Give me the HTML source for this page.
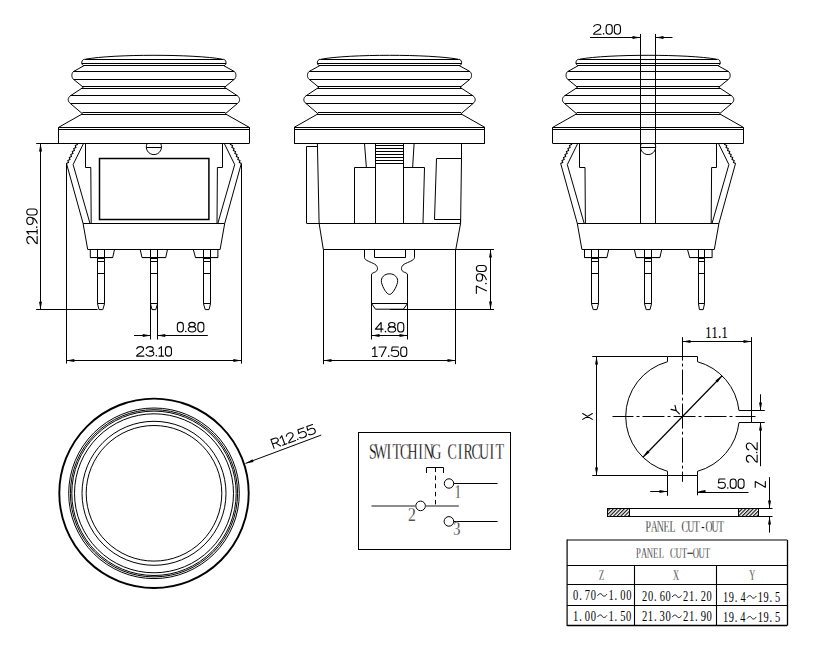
<!DOCTYPE html>
<html><head><meta charset="utf-8"><style>
html,body{margin:0;padding:0;background:#fff;}
svg{display:block;}
</style></head><body>
<svg width="825" height="650" viewBox="0 0 825 650">
<rect width="825" height="650" fill="#fff"/>
<style>text{fill:#000;stroke:none;} text.dk{stroke:none;} text.lt{stroke:#fff;stroke-width:0.3px;}</style>
<g fill="none" stroke="#000" stroke-width="1" stroke-linejoin="miter" stroke-linecap="butt">
<path d="M84.6,59.2 C81.3,59.6 80.7,64.4 83.8,65.8 L73.5,71.5 C71.3,73.4 71.3,77.4 73.5,79.3 L83.3,87.3 L70.4,95.8 C67.5,97.8 67.5,101.5 70.4,103.5 L82.5,113.8 L58.5,127.4 L58.5,127.4 L58.5,143.4" />
<path d="M223.2,59.2 C226.5,59.6 227.1,64.4 224,65.8 L234.3,71.5 C236.5,73.4 236.5,77.4 234.3,79.3 L224.5,87.3 L237.4,95.8 C240.3,97.8 240.3,101.5 237.4,103.5 L225.3,113.8 L249.3,127.4 L249.5,127.4 L249.5,143.4" />
<path d="M85.5,59.2 C113.9,54 193.9,54 222.3,59.2" />
<line x1="84.6" y1="59.5" x2="223.2" y2="59.5" stroke-width="1" />
<line x1="81.7" y1="63.5" x2="226.1" y2="63.5" stroke-width="1" />
<line x1="83.4" y1="65.5" x2="224.4" y2="65.5" stroke-width="1" />
<line x1="73.5" y1="71.5" x2="234.3" y2="71.5" stroke-width="1" />
<line x1="73.5" y1="79.5" x2="234.3" y2="79.5" stroke-width="1" />
<line x1="82.1" y1="86.5" x2="225.7" y2="86.5" stroke-width="1" />
<line x1="81.7" y1="88.5" x2="226.1" y2="88.5" stroke-width="1" />
<line x1="70.4" y1="95.5" x2="237.4" y2="95.5" stroke-width="1" />
<line x1="70.4" y1="103.5" x2="237.4" y2="103.5" stroke-width="1" />
<line x1="82.4" y1="112.5" x2="225.4" y2="112.5" stroke-width="1" />
<line x1="81.4" y1="114.5" x2="226.4" y2="114.5" stroke-width="1" />
<line x1="58.5" y1="127.5" x2="249.3" y2="127.5" stroke-width="1" />
<line x1="58.5" y1="129.5" x2="249.3" y2="129.5" stroke-width="1" />
<line x1="58.5" y1="143.5" x2="249.3" y2="143.5" stroke-width="1" />
<path d="M320.2,59.2 C316.9,59.6 316.3,64.4 319.4,65.8 L309.1,71.5 C306.9,73.4 306.9,77.4 309.1,79.3 L318.9,87.3 L306,95.8 C303.1,97.8 303.1,101.5 306,103.5 L318.1,113.8 L294.1,127.4 L294.5,127.4 L294.5,143.4" />
<path d="M458.8,59.2 C462.1,59.6 462.7,64.4 459.6,65.8 L469.9,71.5 C472.1,73.4 472.1,77.4 469.9,79.3 L460.1,87.3 L473,95.8 C475.9,97.8 475.9,101.5 473,103.5 L460.9,113.8 L484.9,127.4 L484.5,127.4 L484.5,143.4" />
<path d="M321.1,59.2 C349.5,54 429.5,54 457.9,59.2" />
<line x1="320.2" y1="59.5" x2="458.8" y2="59.5" stroke-width="1" />
<line x1="317.3" y1="63.5" x2="461.7" y2="63.5" stroke-width="1" />
<line x1="319" y1="65.5" x2="460" y2="65.5" stroke-width="1" />
<line x1="309.1" y1="71.5" x2="469.9" y2="71.5" stroke-width="1" />
<line x1="309.1" y1="79.5" x2="469.9" y2="79.5" stroke-width="1" />
<line x1="317.7" y1="86.5" x2="461.3" y2="86.5" stroke-width="1" />
<line x1="317.3" y1="88.5" x2="461.7" y2="88.5" stroke-width="1" />
<line x1="306" y1="95.5" x2="473" y2="95.5" stroke-width="1" />
<line x1="306" y1="103.5" x2="473" y2="103.5" stroke-width="1" />
<line x1="318" y1="112.5" x2="461" y2="112.5" stroke-width="1" />
<line x1="317" y1="114.5" x2="462" y2="114.5" stroke-width="1" />
<line x1="294.1" y1="127.5" x2="484.9" y2="127.5" stroke-width="1" />
<line x1="294.1" y1="129.5" x2="484.9" y2="129.5" stroke-width="1" />
<line x1="294.1" y1="143.5" x2="484.9" y2="143.5" stroke-width="1" />
<path d="M578.8,59.2 C575.5,59.6 574.9,64.4 578,65.8 L567.7,71.5 C565.5,73.4 565.5,77.4 567.7,79.3 L577.5,87.3 L564.6,95.8 C561.7,97.8 561.7,101.5 564.6,103.5 L576.7,113.8 L552.7,127.4 L552.5,127.4 L552.5,143.4" />
<path d="M717.4,59.2 C720.7,59.6 721.3,64.4 718.2,65.8 L728.5,71.5 C730.7,73.4 730.7,77.4 728.5,79.3 L718.7,87.3 L731.6,95.8 C734.5,97.8 734.5,101.5 731.6,103.5 L719.5,113.8 L743.5,127.4 L743.5,127.4 L743.5,143.4" />
<path d="M579.7,59.2 C608.1,54 688.1,54 716.5,59.2" />
<line x1="578.8" y1="59.5" x2="717.4" y2="59.5" stroke-width="1" />
<line x1="575.9" y1="63.5" x2="720.3" y2="63.5" stroke-width="1" />
<line x1="577.6" y1="65.5" x2="718.6" y2="65.5" stroke-width="1" />
<line x1="567.7" y1="71.5" x2="728.5" y2="71.5" stroke-width="1" />
<line x1="567.7" y1="79.5" x2="728.5" y2="79.5" stroke-width="1" />
<line x1="576.3" y1="86.5" x2="719.9" y2="86.5" stroke-width="1" />
<line x1="575.9" y1="88.5" x2="720.3" y2="88.5" stroke-width="1" />
<line x1="564.6" y1="95.5" x2="731.6" y2="95.5" stroke-width="1" />
<line x1="564.6" y1="103.5" x2="731.6" y2="103.5" stroke-width="1" />
<line x1="576.6" y1="112.5" x2="719.6" y2="112.5" stroke-width="1" />
<line x1="575.6" y1="114.5" x2="720.6" y2="114.5" stroke-width="1" />
<line x1="552.7" y1="127.5" x2="743.5" y2="127.5" stroke-width="1" />
<line x1="552.7" y1="129.5" x2="743.5" y2="129.5" stroke-width="1" />
<line x1="552.7" y1="143.5" x2="743.5" y2="143.5" stroke-width="1" />
<path d="M147.15,143.5 A7.6,7.6 0 1 0 160.65,143.5" />
<line x1="146.32" y1="147.5" x2="161.48" y2="147.5" stroke-width="1" />
<path d="M85.5,143.4 L85.5,167.5 L90.8,167.5 L91.2,223.3" />
<path d="M83.5,143.5 L73.1,164.6 L90,223.5" />
<path d="M77.3,143.5 L77.4,144.5 L75.26,145.6 L75.92,147.5 L73.77,148.6 L74.44,150.5 L72.29,151.6 L72.95,153.5 L70.81,154.6 L71.47,156.5 L69.33,157.6 L69.99,159.5 L67.85,160.6 L68.51,162.5 L66.36,163.6 L66.5,163.5" stroke-width="1.1"/>
<path d="M66.5,163.5 L83.1,223.5 L87.7,249.5" />
<path d="M222.5,143.4 L222.5,167.5 L217.4,167.5 L217,223.3" />
<path d="M224.3,143.5 L234.7,164.6 L217.8,223.5" />
<path d="M230.5,143.5 L230.4,144.5 L232.54,145.6 L231.88,147.5 L234.03,148.6 L233.36,150.5 L235.51,151.6 L234.85,153.5 L236.99,154.6 L236.33,156.5 L238.47,157.6 L237.81,159.5 L239.95,160.6 L239.29,162.5 L241.44,163.6 L241.3,163.5" stroke-width="1.1"/>
<path d="M241.3,163.5 L224.7,223.5 L220.1,249.5" />
<line x1="83.1" y1="223.5" x2="224.7" y2="223.5" stroke-width="1" />
<line x1="87.7" y1="249.5" x2="220.1" y2="249.5" stroke-width="1" />
<path d="M90.3,249.5 L90.3,257.6 L112.7,257.6 L114.5,249.5" />
<path d="M97.5,249.5 L97.5,303.8 L99,309.6 L102.8,309.6 L104.5,303.8 L104.5,249.5" />
<line x1="97.5" y1="258.5" x2="104.5" y2="258.5" stroke-width="1" />
<line x1="97.5" y1="261.5" x2="104.5" y2="261.5" stroke-width="1" />
<line x1="97.5" y1="273.5" x2="104.5" y2="273.5" stroke-width="1" />
<line x1="97.5" y1="303.5" x2="104.5" y2="303.5" stroke-width="1" />
<line x1="90.3" y1="257.5" x2="112.7" y2="257.5" stroke-width="1" />
<path d="M140.2,249.5 L142,257.6 L165.7,257.6 L167.5,249.5" />
<path d="M150.5,249.5 L150.5,303.8 L152,309.6 L155.8,309.6 L157.5,303.8 L157.5,249.5" />
<line x1="150.5" y1="258.5" x2="157.5" y2="258.5" stroke-width="1" />
<line x1="150.5" y1="261.5" x2="157.5" y2="261.5" stroke-width="1" />
<line x1="150.5" y1="273.5" x2="157.5" y2="273.5" stroke-width="1" />
<line x1="150.5" y1="303.5" x2="157.5" y2="303.5" stroke-width="1" />
<line x1="142" y1="257.5" x2="165.7" y2="257.5" stroke-width="1" />
<path d="M193.3,249.5 L195.5,257.6 L217.9,257.6 L217.9,249.5" />
<path d="M203.5,249.5 L203.5,303.8 L205.2,309.6 L209,309.6 L210.5,303.8 L210.5,249.5" />
<line x1="203.5" y1="258.5" x2="210.5" y2="258.5" stroke-width="1" />
<line x1="203.5" y1="261.5" x2="210.5" y2="261.5" stroke-width="1" />
<line x1="203.5" y1="273.5" x2="210.5" y2="273.5" stroke-width="1" />
<line x1="203.5" y1="303.5" x2="210.5" y2="303.5" stroke-width="1" />
<line x1="195.5" y1="257.5" x2="217.9" y2="257.5" stroke-width="1" />
<path d="M641.35,143.5 A7.6,7.6 0 1 0 654.85,143.5" />
<line x1="640.52" y1="147.5" x2="655.68" y2="147.5" stroke-width="1" />
<path d="M579.5,143.4 L579.5,167.5 L585,167.5 L585.4,223.3" />
<path d="M577.7,143.5 L567.3,164.6 L584.2,223.5" />
<path d="M571.5,143.5 L571.6,144.5 L569.46,145.6 L570.12,147.5 L567.97,148.6 L568.64,150.5 L566.49,151.6 L567.15,153.5 L565.01,154.6 L565.67,156.5 L563.53,157.6 L564.19,159.5 L562.05,160.6 L562.71,162.5 L560.56,163.6 L560.7,163.5" stroke-width="1.1"/>
<path d="M560.7,163.5 L577.3,223.5 L581.9,249.5" />
<path d="M716.5,143.4 L716.5,167.5 L711.6,167.5 L711.2,223.3" />
<path d="M718.5,143.5 L728.9,164.6 L712,223.5" />
<path d="M724.7,143.5 L724.6,144.5 L726.74,145.6 L726.08,147.5 L728.23,148.6 L727.56,150.5 L729.71,151.6 L729.05,153.5 L731.19,154.6 L730.53,156.5 L732.67,157.6 L732.01,159.5 L734.15,160.6 L733.49,162.5 L735.64,163.6 L735.5,163.5" stroke-width="1.1"/>
<path d="M735.5,163.5 L718.9,223.5 L714.3,249.5" />
<line x1="577.3" y1="223.5" x2="718.9" y2="223.5" stroke-width="1" />
<line x1="581.9" y1="249.5" x2="714.3" y2="249.5" stroke-width="1" />
<path d="M584.5,249.5 L584.5,257.6 L606.9,257.6 L608.7,249.5" />
<path d="M591.5,249.5 L591.5,303.8 L593.2,309.6 L597,309.6 L598.5,303.8 L598.5,249.5" />
<line x1="591.5" y1="258.5" x2="598.5" y2="258.5" stroke-width="1" />
<line x1="591.5" y1="261.5" x2="598.5" y2="261.5" stroke-width="1" />
<line x1="591.5" y1="273.5" x2="598.5" y2="273.5" stroke-width="1" />
<line x1="591.5" y1="303.5" x2="598.5" y2="303.5" stroke-width="1" />
<line x1="584.5" y1="257.5" x2="606.9" y2="257.5" stroke-width="1" />
<path d="M634.4,249.5 L636.2,257.6 L659.9,257.6 L661.7,249.5" />
<path d="M644.5,249.5 L644.5,303.8 L646.2,309.6 L650,309.6 L651.5,303.8 L651.5,249.5" />
<line x1="644.5" y1="258.5" x2="651.5" y2="258.5" stroke-width="1" />
<line x1="644.5" y1="261.5" x2="651.5" y2="261.5" stroke-width="1" />
<line x1="644.5" y1="273.5" x2="651.5" y2="273.5" stroke-width="1" />
<line x1="644.5" y1="303.5" x2="651.5" y2="303.5" stroke-width="1" />
<line x1="636.2" y1="257.5" x2="659.9" y2="257.5" stroke-width="1" />
<path d="M687.5,249.5 L689.7,257.6 L712.1,257.6 L712.1,249.5" />
<path d="M698.5,249.5 L698.5,303.8 L699.4,309.6 L703.2,309.6 L704.5,303.8 L704.5,249.5" />
<line x1="698.5" y1="258.5" x2="704.5" y2="258.5" stroke-width="1" />
<line x1="698.5" y1="261.5" x2="704.5" y2="261.5" stroke-width="1" />
<line x1="698.5" y1="273.5" x2="704.5" y2="273.5" stroke-width="1" />
<line x1="698.5" y1="303.5" x2="704.5" y2="303.5" stroke-width="1" />
<line x1="689.7" y1="257.5" x2="712.1" y2="257.5" stroke-width="1" />
<rect x="99.5" y="158.5" width="109.4" height="61" stroke-width="1.5"/>
<line x1="36.2" y1="143.5" x2="60" y2="143.5" stroke-width="1" />
<line x1="40.5" y1="143.4" x2="40.5" y2="309.7" stroke-width="1" />
<path d="M40.5,143.4 L42,151.4 L39,151.4 Z" fill="#000" stroke="none"/>
<path d="M40.5,309.7 L39,301.7 L42,301.7 Z" fill="#000" stroke="none"/>
<line x1="36.2" y1="309.5" x2="97.6" y2="309.5" stroke-width="1" />
<line x1="66.5" y1="163.5" x2="66.5" y2="363.6" stroke-width="1" />
<line x1="241.5" y1="163.5" x2="241.5" y2="363.6" stroke-width="1" />
<line x1="66.3" y1="360.5" x2="241.3" y2="360.5" stroke-width="1" />
<path d="M66.3,360.5 L74.3,359 L74.3,362 Z" fill="#000" stroke="none"/>
<path d="M241.3,360.5 L233.3,362 L233.3,359 Z" fill="#000" stroke="none"/>
<path d="M136.66,348.74 C137.28,347.22 138.73,346.65 140.18,346.65 C142.25,346.65 143.59,347.79 143.59,349.31 C143.59,350.93 142.15,351.88 140.18,353.01 C138.11,354.15 136.66,355.01 136.66,356.15 L143.91,356.15 M146.18,348.55 C147.01,347.22 148.25,346.65 149.81,346.65 C151.78,346.65 153.23,347.6 153.23,349.03 C153.23,350.36 151.88,351.12 149.5,351.12 C152.19,351.12 153.85,352.06 153.85,353.58 C153.85,355.2 152.09,356.15 149.91,356.15 C148.05,356.15 146.7,355.49 145.98,354.25 M159.02,348.55 L161.41,346.65 L161.41,356.15 M159.02,356.15 L163.58,356.15 M165.44,349.5 C165.44,347.79 166.69,346.65 168.45,346.65 C170.21,346.65 171.45,347.79 171.45,349.5 L171.45,353.3 C171.45,355.01 170.21,356.15 168.45,356.15 C166.69,356.15 165.44,355.01 165.44,353.3 L165.44,349.5" fill="none" stroke="#000" stroke-width="1.1" stroke-linecap="round" stroke-linejoin="round"/><circle cx="156.33" cy="355.77" r="0.8" fill="#000" stroke="none"/>
<line x1="150.5" y1="298" x2="150.5" y2="339.5" stroke-width="1" />
<line x1="157.5" y1="298" x2="157.5" y2="339.5" stroke-width="1" />
<line x1="134" y1="335.5" x2="150.75" y2="335.5" stroke-width="1" />
<path d="M150.75,335.5 L142.75,337 L142.75,334 Z" fill="#000" stroke="none"/>
<line x1="157.25" y1="335.5" x2="207.9" y2="335.5" stroke-width="1" />
<path d="M157.25,335.5 L165.25,334 L165.25,337 Z" fill="#000" stroke="none"/>
<path d="M177.35,325.23 C177.35,323.5 178.58,322.35 180.33,322.35 C182.07,322.35 183.31,323.5 183.31,325.23 L183.31,329.07 C183.31,330.8 182.07,331.95 180.33,331.95 C178.58,331.95 177.35,330.8 177.35,329.07 L177.35,325.23 M192.04,322.35 C193.8,322.35 195.22,323.36 195.22,324.61 C195.22,325.85 193.8,326.86 192.04,326.86 C190.28,326.86 188.85,325.85 188.85,324.61 C188.85,323.36 190.28,322.35 192.04,322.35 M192.04,326.77 C194.14,326.77 195.84,327.93 195.84,329.36 C195.84,330.79 194.14,331.95 192.04,331.95 C189.94,331.95 188.24,330.79 188.24,329.36 C188.24,327.93 189.94,326.77 192.04,326.77 M197.89,325.23 C197.89,323.5 199.13,322.35 200.87,322.35 C202.62,322.35 203.85,323.5 203.85,325.23 L203.85,329.07 C203.85,330.8 202.62,331.95 200.87,331.95 C199.13,331.95 197.89,330.8 197.89,329.07 L197.89,325.23" fill="none" stroke="#000" stroke-width="1.1" stroke-linecap="round" stroke-linejoin="round"/><circle cx="185.77" cy="331.57" r="0.8" fill="#000" stroke="none"/>
<path d="M29.04,243.64 C27.37,243.01 26.75,241.55 26.75,240.09 C26.75,238 28,236.64 29.66,236.64 C31.43,236.64 32.47,238.1 33.72,240.09 C34.97,242.18 35.9,243.64 37.15,243.64 L37.15,236.33 M28.83,234.03 L26.75,231.62 L37.15,231.62 M37.15,234.03 L37.15,229.43 M26.75,220.86 C26.75,218.84 28.19,217.2 29.97,217.2 C31.75,217.2 33.2,218.84 33.2,220.86 C33.2,222.88 31.75,224.52 29.97,224.52 C28.19,224.52 26.75,222.88 26.75,220.86 M29.97,217.2 C32.99,217.2 35.9,219.4 37.15,223.16 M29.87,215.01 C28,215.01 26.75,213.76 26.75,211.98 C26.75,210.2 28,208.95 29.87,208.95 L34.03,208.95 C35.9,208.95 37.15,210.2 37.15,211.98 C37.15,213.76 35.9,215.01 34.03,215.01 L29.87,215.01" fill="none" stroke="#000" stroke-width="1.1" stroke-linecap="round" stroke-linejoin="round"/><circle cx="36.73" cy="227.13" r="0.8" fill="#000" stroke="none"/>
<line x1="640.5" y1="34" x2="640.5" y2="223.3" stroke-width="1" />
<line x1="655.5" y1="34" x2="655.5" y2="223.3" stroke-width="1" />
<line x1="590" y1="37.5" x2="640.5" y2="37.5" stroke-width="1" />
<path d="M640.5,37.5 L632.5,39 L632.5,36 Z" fill="#000" stroke="none"/>
<line x1="655.5" y1="37.5" x2="672.5" y2="37.5" stroke-width="1" />
<path d="M655.5,37.5 L663.5,36 L663.5,39 Z" fill="#000" stroke="none"/>
<path d="M593.66,26.61 C594.29,25.04 595.77,24.45 597.25,24.45 C599.36,24.45 600.73,25.63 600.73,27.19 C600.73,28.86 599.25,29.84 597.25,31.02 C595.14,32.19 593.66,33.07 593.66,34.25 L601.04,34.25 M606.11,27.39 C606.11,25.63 607.37,24.45 609.16,24.45 C610.96,24.45 612.22,25.63 612.22,27.39 L612.22,31.31 C612.22,33.07 610.96,34.25 609.16,34.25 C607.37,34.25 606.11,33.07 606.11,31.31 L606.11,27.39 M614.33,27.39 C614.33,25.63 615.6,24.45 617.39,24.45 C619.18,24.45 620.45,25.63 620.45,27.39 L620.45,31.31 C620.45,33.07 619.18,34.25 617.39,34.25 C615.6,34.25 614.33,33.07 614.33,31.31 L614.33,27.39" fill="none" stroke="#000" stroke-width="1.1" stroke-linecap="round" stroke-linejoin="round"/><circle cx="603.57" cy="33.86" r="0.8" fill="#000" stroke="none"/>
<path d="M317.4,143.4 L319.1,223.3 L323.3,249.4" />
<path d="M317.4,146.5 L306.5,146.5 L306.5,223.3" />
<line x1="306.6" y1="223.5" x2="460.5" y2="223.5" stroke-width="1" />
<path d="M364.5,143.5 L366.4,167.8" />
<path d="M354.5,223.3 L354.5,167.5 L375.5,167.5" />
<line x1="375.5" y1="143.4" x2="375.5" y2="223.3" stroke-width="1" />
<line x1="403.5" y1="143.4" x2="403.5" y2="223.3" stroke-width="1" />
<path d="M414.1,143.5 L412.6,167.8" />
<path d="M403.4,167.5 L424.5,167.5 L423,223.3" />
<line x1="375.5" y1="145.5" x2="403.4" y2="145.5" stroke-width="1" />
<line x1="375.5" y1="148.5" x2="403.4" y2="148.5" stroke-width="1" />
<line x1="375.5" y1="151.5" x2="403.4" y2="151.5" stroke-width="1" />
<line x1="375.5" y1="154.5" x2="403.4" y2="154.5" stroke-width="1" />
<line x1="375.5" y1="157.5" x2="403.4" y2="157.5" stroke-width="1" />
<line x1="375.5" y1="160.5" x2="403.4" y2="160.5" stroke-width="1" />
<line x1="375.5" y1="163.5" x2="403.4" y2="163.5" stroke-width="1" />
<path d="M436.5,158.5 L461.7,158.5" />
<path d="M436.5,158.6 L434.5,219.5 L460.5,219.5 L460.5,223.3" />
<path d="M461.5,143.4 L461.5,158.6 L460.6,223.3 L455.8,249.4" />
<line x1="323.3" y1="249.5" x2="494" y2="249.5" stroke-width="1" />
<path d="M364.5,249.5 L364.5,257.5 C364.5,260.5 371,262 374.8,264.2 C378.5,266.5 378.5,271 374.5,272.3 C372.5,273 371.5,273.5 371.5,275 L371.5,303.5 L375.5,309.2 L403.4,309.2 L407.5,303.5 L407.5,275 C407.5,273.5 406.5,273 404.5,272.3 C400.5,271 400.5,266.5 404.2,264.2 C408,262 414.5,260.5 414.5,257.5 L414.5,249.5" />
<path d="M374.5,249.5 L374.5,257.5 L405.5,257.5 L405.5,249.5" />
<line x1="371.5" y1="303.5" x2="407.5" y2="303.5" stroke-width="1" />
<path d="M389.5,273.8 C394.5,273.8 398.5,277.5 397.5,282.5 C396.5,287 392.5,294.4 389.5,294.4 C386.5,294.4 382.5,287 381.5,282.5 C380.5,277.5 384.5,273.8 389.5,273.8 Z" />
<line x1="390" y1="309.5" x2="494" y2="309.5" stroke-width="1" />
<line x1="490.5" y1="249.4" x2="490.5" y2="309.2" stroke-width="1" />
<path d="M490.5,249.5 L492,257.5 L489,257.5 Z" fill="#000" stroke="none"/>
<path d="M490.5,309.5 L489,301.5 L492,301.5 Z" fill="#000" stroke="none"/>
<path d="M476.35,293.35 L476.35,286.09 L486.35,290.86 M476.35,277.38 C476.35,275.37 477.74,273.74 479.45,273.74 C481.16,273.74 482.55,275.37 482.55,277.38 C482.55,279.38 481.16,281.01 479.45,281.01 C477.74,281.01 476.35,279.38 476.35,277.38 M479.45,273.74 C482.35,273.74 485.15,275.92 486.35,279.66 M479.35,271.57 C477.55,271.57 476.35,270.32 476.35,268.56 C476.35,266.79 477.55,265.55 479.35,265.55 L483.35,265.55 C485.15,265.55 486.35,266.79 486.35,268.56 C486.35,270.32 485.15,271.57 483.35,271.57 L479.35,271.57" fill="none" stroke="#000" stroke-width="1.1" stroke-linecap="round" stroke-linejoin="round"/><circle cx="485.95" cy="283.6" r="0.8" fill="#000" stroke="none"/>
<line x1="371.5" y1="303.6" x2="371.5" y2="339.5" stroke-width="1" />
<line x1="407.5" y1="303.6" x2="407.5" y2="339.5" stroke-width="1" />
<line x1="371.5" y1="335.5" x2="407.4" y2="335.5" stroke-width="1" />
<path d="M371.5,335.5 L379.5,334 L379.5,337 Z" fill="#000" stroke="none"/>
<path d="M407.5,335.5 L399.5,337 L399.5,334 Z" fill="#000" stroke="none"/>
<path d="M381.15,332.05 L381.15,322.45 L375.35,329.17 L383.02,329.17 M391.83,322.45 C393.6,322.45 395.04,323.46 395.04,324.71 C395.04,325.95 393.6,326.96 391.83,326.96 C390.06,326.96 388.62,325.95 388.62,324.71 C388.62,323.46 390.06,322.45 391.83,322.45 M391.83,326.87 C393.95,326.87 395.67,328.03 395.67,329.46 C395.67,330.89 393.95,332.05 391.83,332.05 C389.71,332.05 388,330.89 388,329.46 C388,328.03 389.71,326.87 391.83,326.87 M397.74,325.33 C397.74,323.6 398.98,322.45 400.74,322.45 C402.51,322.45 403.75,323.6 403.75,325.33 L403.75,329.17 C403.75,330.9 402.51,332.05 400.74,332.05 C398.98,332.05 397.74,330.9 397.74,329.17 L397.74,325.33" fill="none" stroke="#000" stroke-width="1.1" stroke-linecap="round" stroke-linejoin="round"/><circle cx="385.51" cy="331.67" r="0.8" fill="#000" stroke="none"/>
<line x1="323.5" y1="249.4" x2="323.5" y2="364.2" stroke-width="1" />
<line x1="455.5" y1="249.4" x2="455.5" y2="364.2" stroke-width="1" />
<line x1="323.3" y1="360.5" x2="455.6" y2="360.5" stroke-width="1" />
<path d="M323.5,360.5 L331.5,359 L331.5,362 Z" fill="#000" stroke="none"/>
<path d="M455.5,360.5 L447.5,362 L447.5,359 Z" fill="#000" stroke="none"/>
<path d="M372.56,348.87 L374.94,346.95 L374.94,356.55 M372.56,356.55 L377.12,356.55 M378.98,346.95 L386.23,346.95 L381.47,356.55 M398.25,346.95 L392.14,346.95 L391.62,351.08 C392.66,350.5 394.01,350.31 395.15,350.31 C397.22,350.31 398.67,351.56 398.67,353.38 C398.67,355.3 397.01,356.55 394.94,356.55 C393.28,356.55 392.04,355.97 391.21,355.01 M400.74,349.83 C400.74,348.1 401.98,346.95 403.75,346.95 C405.51,346.95 406.75,348.1 406.75,349.83 L406.75,353.67 C406.75,355.4 405.51,356.55 403.75,356.55 C401.98,356.55 400.74,355.4 400.74,353.67 L400.74,349.83" fill="none" stroke="#000" stroke-width="1.1" stroke-linecap="round" stroke-linejoin="round"/><circle cx="388.72" cy="356.17" r="0.8" fill="#000" stroke="none"/>
<circle cx="154" cy="493.3" r="94.7" stroke-width="1.9"/>
<circle cx="154" cy="493.3" r="85.3"/>
<circle cx="154" cy="493.3" r="83.6"/>
<circle cx="154" cy="493.3" r="82.2"/>
<circle cx="154" cy="493.3" r="79.5"/>
<circle cx="154" cy="493.3" r="72"/>
<circle cx="154" cy="493.3" r="67.8"/>
<line x1="245.5" y1="463.4" x2="321.2" y2="435.1" stroke-width="1" />
<path d="M245.5,463.4 L252.47,459.19 L253.52,462 Z" fill="#000" stroke="none"/>
<path d="M274.12,448.35 L270.93,439.62 L274.61,438.28 C276.35,437.64 277.67,438.25 278.12,439.48 C278.56,440.7 277.94,442.01 276.2,442.65 L272.53,443.98 M275.62,442.86 L280.7,445.96 M280.09,438.26 L281.68,435.71 L284.86,444.45 M282.63,445.26 L286.89,443.71 M286.34,436.18 C286.41,434.58 287.58,433.56 288.93,433.06 C290.87,432.36 292.51,432.95 293.02,434.35 C293.56,435.84 292.52,437.2 291.06,438.92 C289.51,440.67 288.44,441.95 288.82,443 L295.6,440.54 M303.64,427.71 L297.93,429.79 L298.81,433.72 C299.59,432.85 300.79,432.21 301.85,431.83 C303.78,431.12 305.55,431.77 306.16,433.43 C306.79,435.17 305.66,436.87 303.72,437.58 C302.18,438.14 300.82,438.04 299.73,437.45 M312.54,424.47 L306.83,426.55 L307.72,430.48 C308.49,429.61 309.69,428.97 310.75,428.59 C312.69,427.88 314.45,428.53 315.06,430.19 C315.7,431.93 314.56,433.63 312.63,434.34 C311.08,434.9 309.73,434.8 308.63,434.21" fill="none" stroke="#000" stroke-width="1.1" stroke-linecap="round" stroke-linejoin="round"/><circle cx="297.79" cy="439.34" r="0.8" fill="#000" stroke="none"/>
<rect x="358.5" y="432.5" width="152" height="117" />
<text transform="scale(0.63,1)" x="592.01 604.6 617.18 629.77 642.36 654.94 667.53 680.12 692.71 717.88 730.47 743.06 755.64 768.23 780.82 793.4" y="458.6" font-size="22.17" font-family="Liberation Serif" text-anchor="middle" class="lt">SWITCHINGCIRCUIT</text>
<path d="M426.5,473 L426.5,467.5 L443.5,467.5 L443.5,473"/>
<line x1="435.5" y1="467.5" x2="435.5" y2="506.2" stroke-width="1" stroke-dasharray="4.5,3.6"/>
<circle cx="449" cy="483.5" r="4.7"/>
<line x1="453.7" y1="483.5" x2="497.6" y2="483.5" stroke-width="1" />
<circle cx="420.6" cy="505.9" r="4.8"/>
<line x1="371.5" y1="505.9" x2="415.8" y2="505.9" stroke-width="1.5" stroke="#666"/>
<line x1="425.4" y1="505.9" x2="458.8" y2="505.9" stroke-width="1.5" stroke="#666"/>
<circle cx="448.9" cy="521.4" r="4.8"/>
<line x1="453.7" y1="521.5" x2="497.6" y2="521.5" stroke-width="1" />
<text x="454.7" y="497.7" font-size="18.03" font-family="Liberation Serif" textLength="6.25" lengthAdjust="spacingAndGlyphs" class="lt">1</text>
<text x="408.01" y="520.9" font-size="19.03" font-family="Liberation Serif" textLength="7.84" lengthAdjust="spacingAndGlyphs" class="lt">2</text>
<text x="453.32" y="534.91" font-size="18.75" font-family="Liberation Serif" textLength="7.13" lengthAdjust="spacingAndGlyphs" class="lt">3</text>
<path d="M667.5,356.5 L697.5,356.5 L697.5,361.72 A56.8,56.8 0 0 1 738.98,410.5 L751.5,410.5 L751.5,422.5 L738.98,422.5 A56.8,56.8 0 0 1 697.5,471.28 L697.5,475.5 L667.5,475.5 L667.5,471.28 A56.8,56.8 0 0 1 667.5,361.72 Z" />
<line x1="682.5" y1="337.1" x2="682.5" y2="481.8" stroke-dasharray="25,3.1,2.8,3.1" stroke-dashoffset="1.5"/>
<line x1="612.5" y1="416.5" x2="755.5" y2="416.5" stroke-dasharray="22,3,3,3" stroke-dashoffset="1"/>
<line x1="592.2" y1="356.5" x2="667.5" y2="356.5" stroke-width="1" />
<line x1="592.2" y1="475.5" x2="667.5" y2="475.5" stroke-width="1" />
<line x1="596.5" y1="356.5" x2="596.5" y2="475.5" stroke-width="1" />
<path d="M596.5,356.5 L598,364.5 L595,364.5 Z" fill="#000" stroke="none"/>
<path d="M596.5,475.5 L595,467.5 L598,467.5 Z" fill="#000" stroke="none"/>
<path d="M582.65,419.35 L592.35,413.55 M582.65,413.55 L592.35,419.35" fill="none" stroke="#000" stroke-width="1.1" stroke-linecap="round" stroke-linejoin="round"/>
<line x1="722.1" y1="375.78" x2="642.9" y2="457.22" stroke-width="1.2" />
<path d="M722.1,375.78 L717.6,382.56 L715.45,380.47 Z" fill="#000" stroke="none"/>
<path d="M642.9,457.22 L647.4,450.44 L649.55,452.53 Z" fill="#000" stroke="none"/>
<path d="M670.97,409.39 L676.2,410.59 L675,405.36 M676.2,410.59 L679.42,413.81" fill="none" stroke="#000" stroke-width="1.1" stroke-linecap="round" stroke-linejoin="round"/>
<line x1="751.5" y1="337.1" x2="751.5" y2="410.5" stroke-width="1" />
<line x1="682.5" y1="341.5" x2="751.5" y2="341.5" stroke-width="1" />
<path d="M682.5,341.5 L690.5,340 L690.5,343 Z" fill="#000" stroke="none"/>
<path d="M751.5,341.5 L743.5,343 L743.5,340 Z" fill="#000" stroke="none"/>
<text x="705.02" y="337.68" font-size="16.02" font-family="Liberation Serif" textLength="22.89" lengthAdjust="spacingAndGlyphs" class="dk">11.1</text>
<line x1="751.5" y1="410.5" x2="764.8" y2="410.5" stroke-width="1" />
<line x1="751.5" y1="422.5" x2="764.8" y2="422.5" stroke-width="1" />
<line x1="760.5" y1="394.3" x2="760.5" y2="410.5" stroke-width="1" />
<path d="M760.5,410.5 L759,402.5 L762,402.5 Z" fill="#000" stroke="none"/>
<line x1="760.5" y1="422.5" x2="760.5" y2="466.2" stroke-width="1" />
<path d="M760.5,422.5 L762,430.5 L759,430.5 Z" fill="#000" stroke="none"/>
<path d="M748.73,462.24 C747,461.62 746.35,460.18 746.35,458.74 C746.35,456.68 747.65,455.33 749.37,455.33 C751.21,455.33 752.29,456.78 753.59,458.74 C754.88,460.8 755.85,462.24 757.15,462.24 L757.15,455.03 M748.73,449.87 C747,449.25 746.35,447.81 746.35,446.36 C746.35,444.3 747.65,442.96 749.37,442.96 C751.21,442.96 752.29,444.4 753.59,446.36 C754.88,448.43 755.85,449.87 757.15,449.87 L757.15,442.65" fill="none" stroke="#000" stroke-width="1.1" stroke-linecap="round" stroke-linejoin="round"/><circle cx="756.72" cy="452.55" r="0.8" fill="#000" stroke="none"/>
<line x1="667.5" y1="475.5" x2="667.5" y2="495.8" stroke-width="1" />
<line x1="697.5" y1="475.5" x2="697.5" y2="495.3" stroke-width="1" />
<line x1="650.2" y1="491.5" x2="667.5" y2="491.5" stroke-width="1" />
<path d="M667.5,491.5 L659.5,493 L659.5,490 Z" fill="#000" stroke="none"/>
<line x1="697.5" y1="492.5" x2="748.5" y2="492.5" stroke-width="1" />
<path d="M697.5,491.5 L705.5,490 L705.5,493 Z" fill="#000" stroke="none"/>
<path d="M724.96,479.05 L718.96,479.05 L718.46,483.05 C719.47,482.49 720.79,482.31 721.91,482.31 C723.94,482.31 725.36,483.51 725.36,485.28 C725.36,487.14 723.74,488.35 721.71,488.35 C720.08,488.35 718.86,487.79 718.05,486.86 M730.24,481.84 C730.24,480.17 731.46,479.05 733.18,479.05 C734.91,479.05 736.13,480.17 736.13,481.84 L736.13,485.56 C736.13,487.23 734.91,488.35 733.18,488.35 C731.46,488.35 730.24,487.23 730.24,485.56 L730.24,481.84 M738.16,481.84 C738.16,480.17 739.38,479.05 741.1,479.05 C742.83,479.05 744.05,480.17 744.05,481.84 L744.05,485.56 C744.05,487.23 742.83,488.35 741.1,488.35 C739.38,488.35 738.16,487.23 738.16,485.56 L738.16,481.84" fill="none" stroke="#000" stroke-width="1.1" stroke-linecap="round" stroke-linejoin="round"/><circle cx="727.8" cy="487.98" r="0.8" fill="#000" stroke="none"/>
<path d="M755.25,487.25 L755.25,481.55 L765.35,487.25 L765.35,481.55" fill="none" stroke="#000" stroke-width="1.1" stroke-linecap="round" stroke-linejoin="round"/>
<line x1="769.5" y1="477.2" x2="769.5" y2="508.2" stroke-width="1" />
<path d="M769.5,508.5 L768,500.5 L771,500.5 Z" fill="#000" stroke="none"/>
<line x1="769.5" y1="516.1" x2="769.5" y2="532.6" stroke-width="1" />
<path d="M769.5,516.5 L771,524.5 L768,524.5 Z" fill="#000" stroke="none"/>
<defs><pattern id="hat" patternUnits="userSpaceOnUse" width="2.6" height="4" patternTransform="rotate(45)"><line x1="0.6" y1="0" x2="0.6" y2="4" stroke="#000" stroke-width="1.1"/></pattern></defs>
<rect x="607.5" y="508.5" width="22" height="8" fill="url(#hat)"/>
<rect x="738.5" y="508.5" width="20" height="8" fill="url(#hat)"/>
<line x1="607.6" y1="508.5" x2="772.5" y2="508.5" stroke-width="1" />
<line x1="607.6" y1="516.5" x2="772.5" y2="516.5" stroke-width="1" />
<text transform="scale(0.62,1)" x="1045.54 1055.33 1065.12 1074.91 1084.7 1104.28 1114.07 1123.86 1133.65 1143.44 1153.23 1163.02" y="531.8" font-size="15.75" font-family="Liberation Serif" text-anchor="middle" class="lt">PANELCUT-OUT</text>
<line x1="567.1" y1="539.4" x2="567.1" y2="626.1" stroke-width="1.2" />
<line x1="567.1" y1="540" x2="787.3" y2="540" stroke-width="1.2" />
<line x1="787.5" y1="540" x2="787.5" y2="625.5" stroke-width="1.3" />
<line x1="567.1" y1="625.5" x2="787.3" y2="625.5" stroke-width="1.3" />
<line x1="567.1" y1="565.5" x2="787.3" y2="565.5" stroke-width="1.1" />
<line x1="567.1" y1="584.5" x2="787.3" y2="584.5" stroke-width="1.1" />
<line x1="567.1" y1="605.5" x2="787.3" y2="605.5" stroke-width="1.1" />
<line x1="634.5" y1="565.5" x2="634.5" y2="625.5" stroke-width="1.1" />
<line x1="716.5" y1="565.5" x2="716.5" y2="625.5" stroke-width="1.1" />
<text transform="scale(0.58,1)" x="1100.48 1110.41 1120.34 1130.28 1140.21 1160.07 1170 1179.93 1199.79 1209.72 1219.66" y="557.6" font-size="14.83" font-family="Liberation Serif" text-anchor="middle" class="lt">PANELCUTOUT</text><line x1="687.36" y1="553.24" x2="692.88" y2="553.24" stroke="#000" stroke-width="1"/>
<text transform="scale(0.58,1)" x="1037.16" y="580.2" font-size="14.53" font-family="Liberation Serif" text-anchor="middle" class="lt">Z</text>
<text transform="scale(0.58,1)" x="1165.78" y="580.2" font-size="14.53" font-family="Liberation Serif" text-anchor="middle" class="lt">X</text>
<text transform="scale(0.58,1)" x="1297.16" y="580.2" font-size="14.53" font-family="Liberation Serif" text-anchor="middle" class="lt">Y</text>
<text transform="scale(0.72,1)" x="799.51 806.23 815.9 824.1 848.68 855.4 865.07 873.26" y="599.66" font-size="14.5" font-family="Liberation Serif" text-anchor="middle" class="dk">0.701.00</text><path d="M597.48,595.77 C599.37,592.76 601.73,593.58 602.2,594.95 C602.67,596.32 605.03,597.15 606.92,594.13" fill="none" stroke="#000" stroke-width="0.9"/>
<text transform="scale(0.72,1)" x="895.33 903.48 910.16 919.78 927.94 952.4 960.55 967.23 976.85 985.01" y="600.86" font-size="14.5" font-family="Liberation Serif" text-anchor="middle" class="dk">20.6021.20</text><path d="M672.22,596.97 C674.1,593.96 676.45,594.78 676.92,596.15 C677.39,597.52 679.74,598.35 681.62,595.33" fill="none" stroke="#000" stroke-width="0.9"/>
<text transform="scale(0.72,1)" x="1007.77 1015.81 1022.41 1031.9 1056.02 1064.06 1070.66 1080.15" y="601.56" font-size="14.35" font-family="Liberation Serif" text-anchor="middle" class="dk">19.419.5</text><path d="M747.02,597.72 C748.87,594.73 751.19,595.54 751.65,596.9 C752.11,598.26 754.43,599.07 756.28,596.09" fill="none" stroke="#000" stroke-width="0.9"/>
<text transform="scale(0.72,1)" x="799.51 806.23 815.9 824.1 848.68 855.4 865.07 873.26" y="620.95" font-size="14.64" font-family="Liberation Serif" text-anchor="middle" class="dk">1.001.50</text><path d="M597.48,617.03 C599.37,613.98 601.73,614.82 602.2,616.2 C602.67,617.59 605.03,618.42 606.92,615.37" fill="none" stroke="#000" stroke-width="0.9"/>
<text transform="scale(0.72,1)" x="895.33 903.48 910.16 919.78 927.94 952.4 960.55 967.23 976.85 985.01" y="621.15" font-size="14.79" font-family="Liberation Serif" text-anchor="middle" class="dk">21.3021.90</text><path d="M672.22,617.19 C674.1,614.11 676.45,614.95 676.92,616.35 C677.39,617.75 679.74,618.59 681.62,615.51" fill="none" stroke="#000" stroke-width="0.9"/>
<text transform="scale(0.72,1)" x="1007.77 1015.81 1022.41 1031.9 1056.02 1064.06 1070.66 1080.15" y="622.46" font-size="14.5" font-family="Liberation Serif" text-anchor="middle" class="dk">19.419.5</text><path d="M747.02,618.57 C748.87,615.56 751.19,616.38 751.65,617.75 C752.11,619.12 754.43,619.95 756.28,616.93" fill="none" stroke="#000" stroke-width="0.9"/>
</g>
</svg>
</body></html>
